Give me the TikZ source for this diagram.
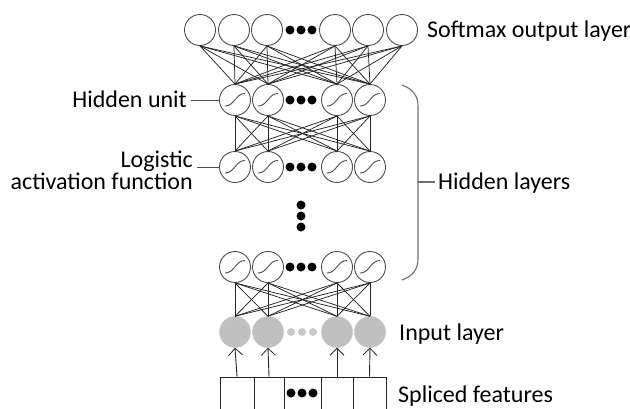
\documentclass[tikz,border=0pt]{standalone}
\usepackage{fontspec}
\setmainfont{Carlito}
\usetikzlibrary{arrows.meta}
\definecolor{ring}{HTML}{4D4D4D}
\definecolor{wire}{HTML}{262626}
\definecolor{infill}{HTML}{C0C0C0}
\definecolor{lightdot}{HTML}{C8C8C8}
\definecolor{bracket}{HTML}{6E6E6E}
\tikzset{
  unit/.style={circle,draw=ring,line width=0.9pt,inner sep=0pt,minimum size=31pt,fill=white},
  hid/.style={unit,path picture={
      \draw[ring,line width=0.9pt]
        ([shift={(-10pt,-6pt)}]path picture bounding box.center)
        .. controls ([shift={(-1pt,-6.5pt)}]path picture bounding box.center)
        and ([shift={(1pt,7pt)}]path picture bounding box.center)
        .. ([shift={(10pt,6.5pt)}]path picture bounding box.center);}},
  inp/.style={circle,fill=infill,draw=infill,inner sep=0pt,minimum size=31pt},
  bigdot/.style={circle,fill=black,inner sep=0pt,minimum size=9pt},
  greydot/.style={circle,fill=lightdot,inner sep=0pt,minimum size=8pt},
  cell/.style={rectangle,draw=wire,line width=0.9pt,inner sep=0pt,minimum height=60pt},
  link/.style={wire,line width=0.75pt},
  feed/.style={wire,line width=0.9pt,-{Straight Barb[length=7pt,width=14pt,line width=0.8pt]}},
  lbl/.style={inner sep=0pt,font=\fontsize{24}{26}\selectfont},
  pointer/.style={ring,line width=0.9pt}
}
\begin{document}
\begin{tikzpicture}[x=1pt,y=-1pt]
\path[use as bounding box,clip] (0,0) rectangle (630,408);

% softmax output layer
\foreach \n/\x in {1/200,2/234,3/267,4/335,5/368,6/402}
  \node[unit] (o\n) at (\x,30) {};
% hidden layers and input layer
\foreach \n/\x in {1/235,2/268,3/337,4/370}{
  \node[hid] (ha\n) at (\x,100) {};
  \node[hid] (hb\n) at (\x,167) {};
  \node[hid] (hc\n) at (\x,267) {};
  \node[inp] (in\n) at (\x,332) {};
}
% ellipsis dots
\foreach \x [count=\k] in {290,301,312}{
  \node[bigdot] (od\k) at (\x,30) {};
  \node[bigdot] (had\k) at (\x,100) {};
  \node[bigdot] (hbd\k) at (\x,167) {};
  \node[bigdot] (hcd\k) at (\x,267) {};
  \node[greydot] (ind\k) at (\x+1,332) {};
  \node[bigdot] (bd\k) at (\x+1,393) {};
}
\foreach \y [count=\k] in {205,216,227}
  \node[bigdot] (vd\k) at (301,\y) {};

% full connections between layers
\foreach \i in {1,...,6}
  \foreach \j in {1,...,4}
    \draw[link] (o\i.south) -- (ha\j.north);
\foreach \i in {1,...,4}
  \foreach \j in {1,...,4}{
    \draw[link] (ha\i.south) -- (hb\j.north);
    \draw[link] (hc\i.south) -- (in\j.north);
  }

% spliced feature cells
\node[cell,minimum width=34pt] (b1) at (237,407) {};
\node[cell,minimum width=30pt] (b2) at (269,407) {};
\node[cell,minimum width=37pt] (b3) at (302.5,407) {};
\node[cell,minimum width=32pt] (b4) at (337,407) {};
\node[cell,minimum width=33pt] (b5) at (369.5,407) {};
\foreach \n in {1,2}
  \draw[feed] (b\n.north) -- (in\n.south);
\draw[feed] (b4.north) -- (in3.south);
\draw[feed] (b5.north) -- (in4.south);

% labels
\node[lbl,anchor=base west] (tsoft) at (427,37) {Softmax output layer};
\node[lbl,anchor=base east] (tunit) at (187,107) {Hidden unit};
\node[lbl,anchor=base east] (tlog1) at (193,167) {Logistic};
\node[lbl,anchor=base east] (tlog2) at (193,189) {activation function};
\node[lbl,anchor=base west] (thid) at (438,189) {Hidden layers};
\node[lbl,anchor=base west] (tin) at (399,340) {Input layer};
\node[lbl,anchor=base west] (tspl) at (398,402) {Spliced features};

\coordinate (punit) at (191,100);
\coordinate (plog) at (197,167);
\draw[pointer] (punit) -- (ha1.west);
\draw[pointer] (plog) -- (hb1.west);

% bracket around the hidden layers
\coordinate (brtip) at (418,182);
\coordinate (brend) at (435,182);
\draw[bracket,line width=1.1pt]
  (402,85) .. controls (413,89) and (418,96) .. (418,106)
  -- (418,259) .. controls (418,269) and (413,276) .. (402,280);
\draw[bracket,line width=1.1pt] (brtip) -- (brend);
\end{tikzpicture}
\end{document}
